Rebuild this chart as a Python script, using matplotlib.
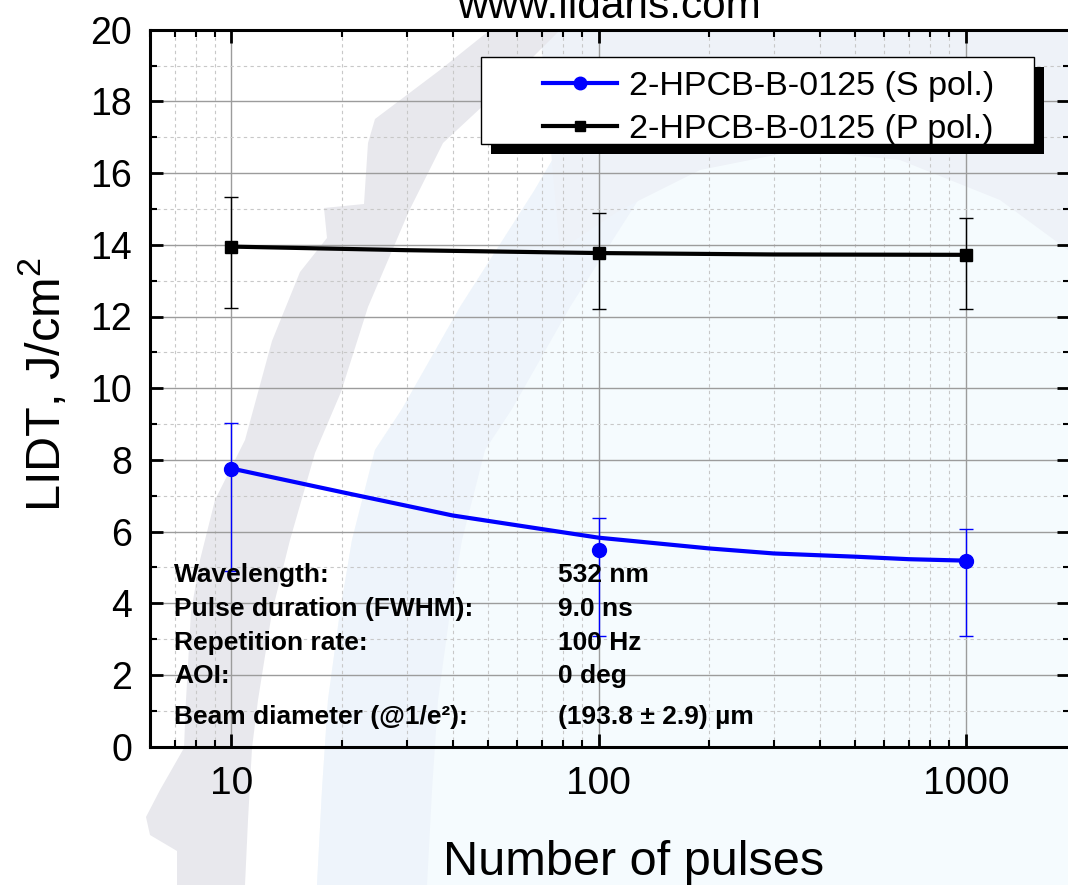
import numpy as np
import matplotlib.pyplot as plt
from matplotlib.patches import Polygon, Rectangle
from matplotlib.lines import Line2D
from matplotlib.ticker import MultipleLocator, LogLocator, NullFormatter, FixedLocator

plt.rcParams['font.family'] = ['Liberation Sans', 'DejaVu Sans']
plt.rcParams['mathtext.fontset'] = 'custom'
plt.rcParams['mathtext.rm'] = 'Liberation Sans'
plt.rcParams['mathtext.default'] = 'regular'

# measured LIDT values, J/cm^2
pulses = [10, 100, 1000]
s_lidt = [7.76, 5.50, 5.19]
s_upper = [9.02, 6.38, 6.08]
s_lower = [4.90, 3.09, 3.09]
p_lidt = [13.95, 13.77, 13.72]
p_upper = [15.33, 14.88, 14.74]
p_lower = [12.23, 12.22, 12.22]

# fitted curves as they appear on the chart
s_fit_x = [10, 20, 40, 80, 100, 200, 300, 500, 700, 1000]
s_fit_y = [7.76, 7.10, 6.45, 5.98, 5.83, 5.53, 5.39, 5.30, 5.23, 5.19]
p_fit_x = [10, 30, 100, 300, 1000]
p_fit_y = [13.95, 13.85, 13.77, 13.73, 13.72]

s_label = '2-HPCB-B-0125 (S pol.)'
p_label = '2-HPCB-B-0125 (P pol.)'

info_names = ['Wavelength:', 'Pulse duration (FWHM):', 'Repetition rate:', 'AOI:',
              'Beam diameter (@1/e\u00b2):']
info_values = ['532 nm', '9.0 ns', '100 Hz', '0 deg', '(193.8 \u00b1 2.9) \u00b5m']

W, H = 1068, 885
fig = plt.figure(figsize=(W / 100, H / 100), dpi=100)


def px(points):
    # pixel coords (from top-left) -> figure fraction
    return [(x / W, 1 - y / H) for x, y in points]


# faint logo watermark in the background
pale_edge = [(610, 30), (570, 130), (534, 191), (460, 307), (402, 409), (375, 450),
             (352, 540), (340, 612), (328, 700), (322, 790), (317, 885)]
pale = pale_edge + [(1068, 885), (1068, 30)]
band = pale_edge + [(x + 110, y) for x, y in pale_edge[::-1]]
top_region = [(540, 30), (1068, 30), (1068, 250), (1000, 200), (900, 160), (800, 150),
              (700, 170), (620, 210), (560, 250)]
gray_outer = [(490, 30), (440, 70), (375, 119), (368, 143), (364, 204), (324, 208),
              (327, 238), (300, 272), (272, 341), (245, 440), (215, 500), (200, 560),
              (191, 612), (186, 700), (184, 748), (160, 790), (146, 817), (150, 835),
              (177, 851), (177, 885)]
gray_inner = [(560, 30), (500, 90), (443, 143), (409, 211), (368, 307), (341, 392),
              (315, 453), (290, 540), (272, 612), (258, 700), (252, 748), (248, 820),
              (245, 885)]
gray = gray_outer + gray_inner[::-1]

for pts, col in [(pale, '#f5fbfe'), (band, '#eef4fb'), (top_region, '#eef2f8'),
                 (gray, '#e8e8ed')]:
    fig.add_artist(Polygon(px(pts), closed=True, facecolor=col, edgecolor='none',
                           transform=fig.transFigure, zorder=-5))

# axes: left spine at 150 px, y from 29.7 to 746.7 px, right edge just outside the image
xmin, xmax = 6, 1920
ax = fig.add_axes([150 / W, (H - 746.7) / H, 920 / W, 717 / H])
ax.set_facecolor('none')
ax.set_xscale('log')
ax.set_xlim(xmin, xmax)
ax.set_ylim(0, 20)

ax.grid(which='major', color='#9c9c9c', lw=1.0, ls='-', zorder=0)
ax.grid(which='minor', color='#c8c8c8', lw=0.8, ls=(0, (3, 3)), zorder=0)
ax.set_axisbelow(True)

ax.plot(p_fit_x, p_fit_y, color='black', lw=3.0, zorder=3)
ax.plot(s_fit_x, s_fit_y, color='blue', lw=3.0, zorder=3)

p_err = [np.array(p_lidt) - np.array(p_lower), np.array(p_upper) - np.array(p_lidt)]
s_err = [np.array(s_lidt) - np.array(s_lower), np.array(s_upper) - np.array(s_lidt)]
ax.errorbar(pulses, p_lidt, yerr=p_err, fmt='s', color='black', ms=9, ecolor='black',
            elinewidth=1.0, capsize=5, capthick=1.0, zorder=4)
ax.errorbar(pulses, s_lidt, yerr=s_err, fmt='o', color='blue', ms=10, ecolor='blue',
            elinewidth=1.0, capsize=5, capthick=1.0, zorder=4)

ax.yaxis.set_major_locator(MultipleLocator(2))
ax.yaxis.set_minor_locator(MultipleLocator(1))
ax.xaxis.set_major_locator(FixedLocator([10, 100, 1000]))
ax.xaxis.set_minor_locator(LogLocator(base=10, subs=np.arange(2, 10), numticks=20))
ax.xaxis.set_minor_formatter(NullFormatter())
ax.set_xticklabels(['10', '100', '1000'])

ax.tick_params(which='both', direction='in', top=True, right=True, color='black')
ax.tick_params(which='major', length=9.5, width=2.0)
ax.tick_params(which='minor', length=5, width=1.5)
ax.tick_params(axis='y', which='major', labelsize=27, pad=13)
ax.tick_params(axis='x', which='major', labelsize=28, pad=14)
for sp in ax.spines.values():
    sp.set_linewidth(2.2)

ax.set_xlabel('Number of pulses', fontsize=35)
ax.xaxis.set_label_coords((634 - 150) / 920, -0.130)
ax.set_ylabel('LIDT, J/cm$^2$', fontsize=35)
ax.yaxis.set_label_coords(-0.087, 0.505)

fig.text(608.6 / W, 1 - 18 / H, 'www.lidaris.com', ha='center', va='baseline', fontsize=30.5)

rows_y = [0.2296, 0.182, 0.1353, 0.0887, 0.0322]
for name, val, y in zip(info_names, info_values, rows_y):
    ax.text(0.026, y, name, transform=ax.transAxes, fontsize=19, fontweight='bold',
            va='baseline', ha='left', zorder=6)
    ax.text(0.4433, y, val, transform=ax.transAxes, fontsize=19, fontweight='bold',
            va='baseline', ha='left', zorder=6)

handles = [Line2D([], [], color='blue', lw=3.0, marker='o', ms=9),
           Line2D([], [], color='black', lw=3.0, marker='s', ms=7.5)]
leg = ax.legend(handles, [s_label, p_label], loc='upper left',
                bbox_to_anchor=(543 / W, 1 - 71 / H), bbox_transform=fig.transFigure,
                frameon=False, borderpad=0, borderaxespad=0, fontsize=24.6,
                handlelength=2.18, handletextpad=0.34, labelspacing=0.35, numpoints=1)
leg.set_zorder(7)

# Origin style legend frame with a hard black shadow
fig.canvas.draw()
bb = leg.get_window_extent()
x0, x1 = bb.x0 - 62, bb.x1 + 40
y0, y1 = bb.y0 + 1, bb.y1 + 14
shadow = Rectangle(((x0 + 10) / W, (y0 - 10) / H), (x1 - x0) / W, (y1 - y0) / H,
                   transform=fig.transFigure, facecolor='black', edgecolor='none',
                   clip_on=False, zorder=6.5)
frame = Rectangle((x0 / W, y0 / H), (x1 - x0) / W, (y1 - y0) / H,
                  transform=fig.transFigure, facecolor='white', edgecolor='black',
                  lw=1.0, clip_on=False, zorder=6.6)
ax.add_artist(shadow)
ax.add_artist(frame)

fig.savefig('out.png', dpi=100)
